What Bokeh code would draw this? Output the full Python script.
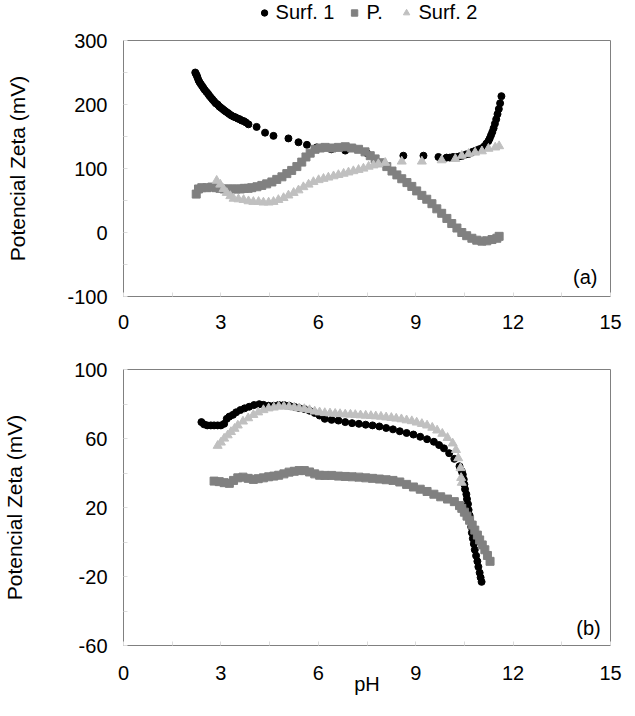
from bokeh.plotting import figure
from bokeh.models import FixedTicker, Legend, LegendItem, Label, Range1d
from bokeh.layouts import column
from bokeh.embed import file_html
from bokeh.resources import INLINE

# ---------------- data: panel (a) ----------------
a_s1_ph = [2.21, 2.23, 2.26, 2.28, 2.31, 2.34, 2.38, 2.42, 2.46, 2.50, 2.55, 2.60, 2.64, 2.69,
           2.74, 2.79, 2.84, 2.90, 2.95, 3.00, 3.05, 3.10, 3.15, 3.21, 3.26, 3.32, 3.39, 3.45,
           3.52, 3.58, 3.64, 3.71, 3.77, 3.85, 4.10, 4.36, 4.62, 5.08, 5.39, 5.65, 5.95, 6.40,
           6.83, 7.50, 8.62, 9.24, 9.70, 9.95, 10.05, 10.15, 10.25, 10.35, 10.45, 10.55, 10.65,
           10.75, 10.85, 10.95, 11.05, 11.12, 11.18, 11.24, 11.28, 11.32, 11.36, 11.40, 11.44,
           11.48, 11.52, 11.56, 11.60, 11.64]
a_s1_zeta = [250, 248, 245, 242, 238, 235, 232, 229, 226, 223, 220, 217, 214, 211,
             208, 205, 202, 200, 197, 195, 193, 191, 189, 187, 185, 183, 181, 180,
             178, 177, 175, 174, 172, 169, 165, 156, 151, 147, 141, 137, 133, 130,
             128, 124, 120, 120, 118, 117, 117, 118, 118, 119, 120, 122, 123,
             126, 128, 130, 132, 135, 139, 143, 147, 152, 157, 163, 170,
             177, 185, 193, 202, 213]

a_p_ph = [2.24, 2.31, 2.41, 2.57, 2.72, 2.85, 2.97, 3.10, 3.22, 3.35, 3.47, 3.60, 3.72, 3.84,
          3.95, 4.11, 4.26, 4.41, 4.57, 4.72, 4.88, 5.03, 5.18, 5.34, 5.49, 5.62, 5.75, 5.90,
          6.06, 6.21, 6.42, 6.62, 6.83, 7.03, 7.24, 7.44, 7.60, 7.75, 7.96, 8.11, 8.27, 8.42,
          8.57, 8.73, 8.88, 9.03, 9.19, 9.34, 9.50, 9.65, 9.80, 9.96, 10.11, 10.27, 10.42,
          10.57, 10.73, 10.88, 11.04, 11.19, 11.35, 11.50, 11.57]
a_p_zeta = [60, 68, 70, 70, 71, 70, 69, 68, 68, 68, 68, 68, 69, 69,
            70, 71.5, 73.6, 76, 79, 83, 87, 92, 97, 103, 110, 118, 124, 130,
            132, 133, 132, 133, 134, 132, 130, 126, 120, 115, 109, 103, 96, 90,
            84, 78, 72, 65, 58, 52, 45, 37, 30, 22, 14, 7, 0,
            -5, -9, -12, -13.5, -13, -11, -9, -6]

a_s2_ph = [2.87, 2.98, 3.08, 3.18, 3.29, 3.39, 3.54, 3.70, 3.85, 4.00, 4.16, 4.31, 4.47, 4.62,
           4.77, 4.93, 5.08, 5.24, 5.39, 5.54, 5.70, 5.85, 6.01, 6.16, 6.31, 6.47, 6.62, 6.78,
           6.93, 7.08, 7.24, 7.39, 7.55, 7.70, 7.85, 8.06, 8.57, 9.19, 9.80, 10.22, 10.42,
           10.63, 10.83, 11.04, 11.24, 11.45, 11.57]
a_s2_zeta = [81, 75, 68, 62, 57, 53, 52, 51, 49, 48, 48, 47, 47, 48,
             51, 54, 58, 62, 66, 71, 75, 79, 82, 84, 86, 88, 90, 92,
             94, 96, 98, 100, 103, 105, 107, 109, 111, 111, 113, 115, 120,
             123, 125, 127, 131, 133, 135]

# ---------------- data: panel (b) ----------------
b_s1_ph = [2.40, 2.48, 2.58, 2.69, 2.79, 2.90, 3.00, 3.10, 3.18, 3.26, 3.37, 3.47, 3.60, 3.73,
           3.87, 4.02, 4.18, 4.31, 4.47, 4.63, 4.78, 4.94, 5.10, 5.26, 5.41, 5.57, 5.73, 5.89,
           6.04, 6.20, 6.41, 6.62, 6.83, 7.04, 7.25, 7.46, 7.67, 7.88, 8.09, 8.30, 8.51, 8.72,
           8.93, 9.14, 9.35, 9.56, 9.72, 9.87, 10.03, 10.19, 10.35, 10.42, 10.45, 10.48, 10.50,
           10.52, 10.56, 10.58, 10.61, 10.63, 10.66, 10.68, 10.71, 10.73, 10.76, 10.79, 10.82,
           10.86, 10.90, 10.93, 10.97, 11.00, 11.03]
b_s1_zeta = [69.5, 68.2, 67.6, 67.6, 67.6, 67.6, 67.6, 68.5, 71.4, 72.7, 73.7, 75.2, 76.5, 77.5,
             78.4, 79.4, 79.9, 79.5, 79.0, 79.0, 79.4, 79.4, 79.0, 78.4, 77.6, 77.1, 76.1, 74.8,
             73.3, 71.4, 70.8, 70.4, 69.5, 68.9, 68.5, 68.0, 67.6, 67.0, 66.1, 65.3, 64.2, 63.2,
             62.3, 61.0, 59.6, 58.1, 56.2, 54.3, 51.5, 48.2, 43.9, 41.0, 39.1, 36.3, 33.4,
             30.6, 27.7, 24.9, 22.0, 18.6, 15.4, 12.2, 8.8, 5.4, 2.1, -1.1, -4.5,
             -7.9, -11.2, -14.4, -17.8, -20.6, -23.1]

b_p_ph = [2.79, 2.95, 3.10, 3.26, 3.39, 3.52, 3.68, 3.84, 4.00, 4.15, 4.31, 4.47, 4.63, 4.78,
          4.94, 5.10, 5.26, 5.41, 5.57, 5.73, 5.89, 6.04, 6.20, 6.41, 6.62, 6.83, 7.04, 7.25,
          7.46, 7.67, 7.88, 8.09, 8.30, 8.51, 8.72, 8.93, 9.14, 9.35, 9.56, 9.77, 9.98, 10.19,
          10.35, 10.42, 10.50, 10.58, 10.66, 10.74, 10.82, 10.90, 10.97, 11.05, 11.13, 11.21,
          11.29]
b_p_zeta = [35.3, 35.0, 34.4, 34.0, 35.7, 37.2, 37.6, 36.9, 36.3, 36.7, 37.2, 37.8, 38.2, 38.7,
            39.5, 40.5, 41.0, 41.4, 41.4, 40.6, 39.5, 38.7, 38.6, 38.6, 38.2, 38.0, 37.8, 37.6,
            37.2, 36.9, 36.5, 36.1, 35.7, 34.8, 33.4, 31.9, 30.6, 29.3, 27.7, 26.2, 24.9, 23.4,
            21.1, 19.5, 17.3, 15.0, 12.6, 9.8, 6.9, 4.0, 1.2, -1.7, -4.5, -7.8,
            -11.2]

b_s2_ph = [2.90, 3.00, 3.10, 3.21, 3.31, 3.42, 3.52, 3.68, 3.84, 4.00, 4.15, 4.31, 4.47, 4.63,
           4.78, 4.94, 5.10, 5.26, 5.41, 5.57, 5.73, 5.89, 6.04, 6.20, 6.36, 6.52, 6.67, 6.83,
           6.99, 7.14, 7.30, 7.46, 7.62, 7.77, 7.93, 8.09, 8.25, 8.40, 8.56, 8.72, 8.88, 9.03,
           9.19, 9.35, 9.51, 9.66, 9.82, 9.98, 10.14, 10.24, 10.31, 10.38, 10.40, 10.42]
b_s2_zeta = [55.8, 57.7, 60.0, 61.9, 63.8, 65.7, 67.6, 69.9, 71.8, 73.7, 75.2, 76.5, 77.5, 78.0,
             78.6, 78.6, 78.4, 78.0, 77.5, 77.1, 76.5, 75.7, 75.2, 74.8, 74.6, 74.4, 74.2, 74.0,
             73.9, 73.7, 73.5, 73.3, 73.1, 72.9, 72.7, 72.3, 72.0, 71.6, 71.2, 70.6, 70.1, 69.3,
             68.5, 67.6, 66.3, 64.7, 62.8, 60.4, 57.2, 53.4, 48.6, 42.9, 37.2, 34.4]

series_names = ["Surf. 1", "P.", "Surf. 2"]
x_ticks = [0, 3, 6, 9, 12, 15]
x_minor = [1.5, 4.5, 7.5, 10.5, 13.5]
a_y_ticks = [-100, 0, 100, 200, 300]
a_y_minor = [-50, 50, 150, 250]
b_y_ticks = [-60, -20, 20, 60, 100]
b_y_minor = [-40, 0, 40, 80]

FONT = "Liberation Sans"
FS = "20px"
C1, C2, C3 = "#000000", "#808080", "#c0c0c0"
MARKERS = [("circle", 7, C1), ("square", 8, C2), ("triangle", 9, C3)]


def make_fig(height, top, left, right, bottom, yr, yt, ym, xlabel, ystand, xstand):
    p = figure(width=622, height=height, x_range=Range1d(0, 15), y_range=Range1d(*yr),
               output_backend="svg", toolbar_location=None,
               min_border_top=top, min_border_left=left, min_border_right=right,
               min_border_bottom=bottom)
    p.xgrid.visible = False
    p.ygrid.visible = False
    p.outline_line_color = "#808080"
    p.outline_line_width = 1
    p.background_fill_color = "white"
    p.border_fill_color = "white"
    p.xaxis.ticker = FixedTicker(ticks=x_ticks, minor_ticks=x_minor)
    p.yaxis.ticker = FixedTicker(ticks=yt, minor_ticks=ym)
    p.yaxis.major_label_overrides = {t: str(t) for t in yt}
    for ax in (p.xaxis[0], p.yaxis[0]):
        ax.axis_line_color = None
        ax.major_tick_in = 4
        ax.major_tick_out = 0
        ax.minor_tick_in = 4
        ax.minor_tick_out = 0
        ax.major_tick_line_color = "#dcdcdc"
        ax.minor_tick_line_color = "#dcdcdc"
        ax.major_label_text_font = FONT
        ax.major_label_text_font_size = FS
        ax.major_label_text_color = "black"
        ax.axis_label_text_font = FONT
        ax.axis_label_text_font_style = "normal"
        ax.axis_label_text_color = "black"
    p.yaxis.axis_label = "Potencial Zeta (mV)"
    p.yaxis.axis_label_text_font_size = "21px"
    p.yaxis.major_label_standoff = 16
    p.yaxis.axis_label_standoff = ystand
    p.xaxis.major_label_standoff = xstand
    if xlabel:
        p.xaxis.axis_label = xlabel
        p.xaxis.axis_label_text_font_size = FS
        p.xaxis.axis_label_standoff = -10
    return p


# ---------------- legend strip (hidden copies of panel (a) series) ----------------
pl = figure(width=622, height=24, x_range=Range1d(0, 15), y_range=Range1d(-100, 300),
            output_backend="svg", toolbar_location=None,
            x_axis_location=None, y_axis_location=None,
            min_border_left=104, min_border_right=0, min_border_top=0, min_border_bottom=0)
pl.xgrid.visible = False
pl.ygrid.visible = False
pl.outline_line_color = None
legend_renderers = []
for (mk, sz, col), xs, ys in zip(MARKERS, [a_s1_ph, a_p_ph, a_s2_ph],
                                 [a_s1_zeta, a_p_zeta, a_s2_zeta]):
    legend_renderers.append(pl.scatter(xs, ys, marker=mk, size=sz, color=col, visible=False))
legend = Legend(items=[LegendItem(label=n, renderers=[r])
                       for n, r in zip(series_names, legend_renderers)],
                orientation="horizontal", location="center",
                glyph_width=16, glyph_height=16, label_standoff=4, spacing=12,
                padding=0, margin=0, border_line_color=None, background_fill_alpha=0,
                label_text_font=FONT, label_text_font_size=FS, label_text_color="black")
pl.add_layout(legend, "center")

# ---------------- panel (a) ----------------
pa = make_fig(313, 16, 115, 10, 41, (-100, 300), a_y_ticks, a_y_minor, None, 35, 18)
for (mk, sz, col), xs, ys in zip(MARKERS, [a_s1_ph, a_p_ph, a_s2_ph],
                                 [a_s1_zeta, a_p_zeta, a_s2_zeta]):
    pa.scatter(xs, ys, marker=mk, size=sz, color=col)
pa.add_layout(Label(x=14.6, y=-70, text="(a)", text_align="right", text_baseline="middle",
                    text_font=FONT, text_font_size=FS, text_color="black"))

# ---------------- panel (b) ----------------
pb = make_fig(363, 32, 122, 12, 55, (-60, 100), b_y_ticks, b_y_minor, "pH", 45, 20)
for (mk, sz, col), xs, ys in zip(MARKERS, [b_s1_ph, b_p_ph, b_s2_ph],
                                 [b_s1_zeta, b_p_zeta, b_s2_zeta]):
    pb.scatter(xs, ys, marker=mk, size=sz, color=col)
pb.add_layout(Label(x=14.7, y=-50, text="(b)", text_align="right", text_baseline="middle",
                    text_font=FONT, text_font_size=FS, text_color="black"))

layout = column(pl, pa, pb, spacing=0)
open("out.html", "w").write(file_html(layout, INLINE))
